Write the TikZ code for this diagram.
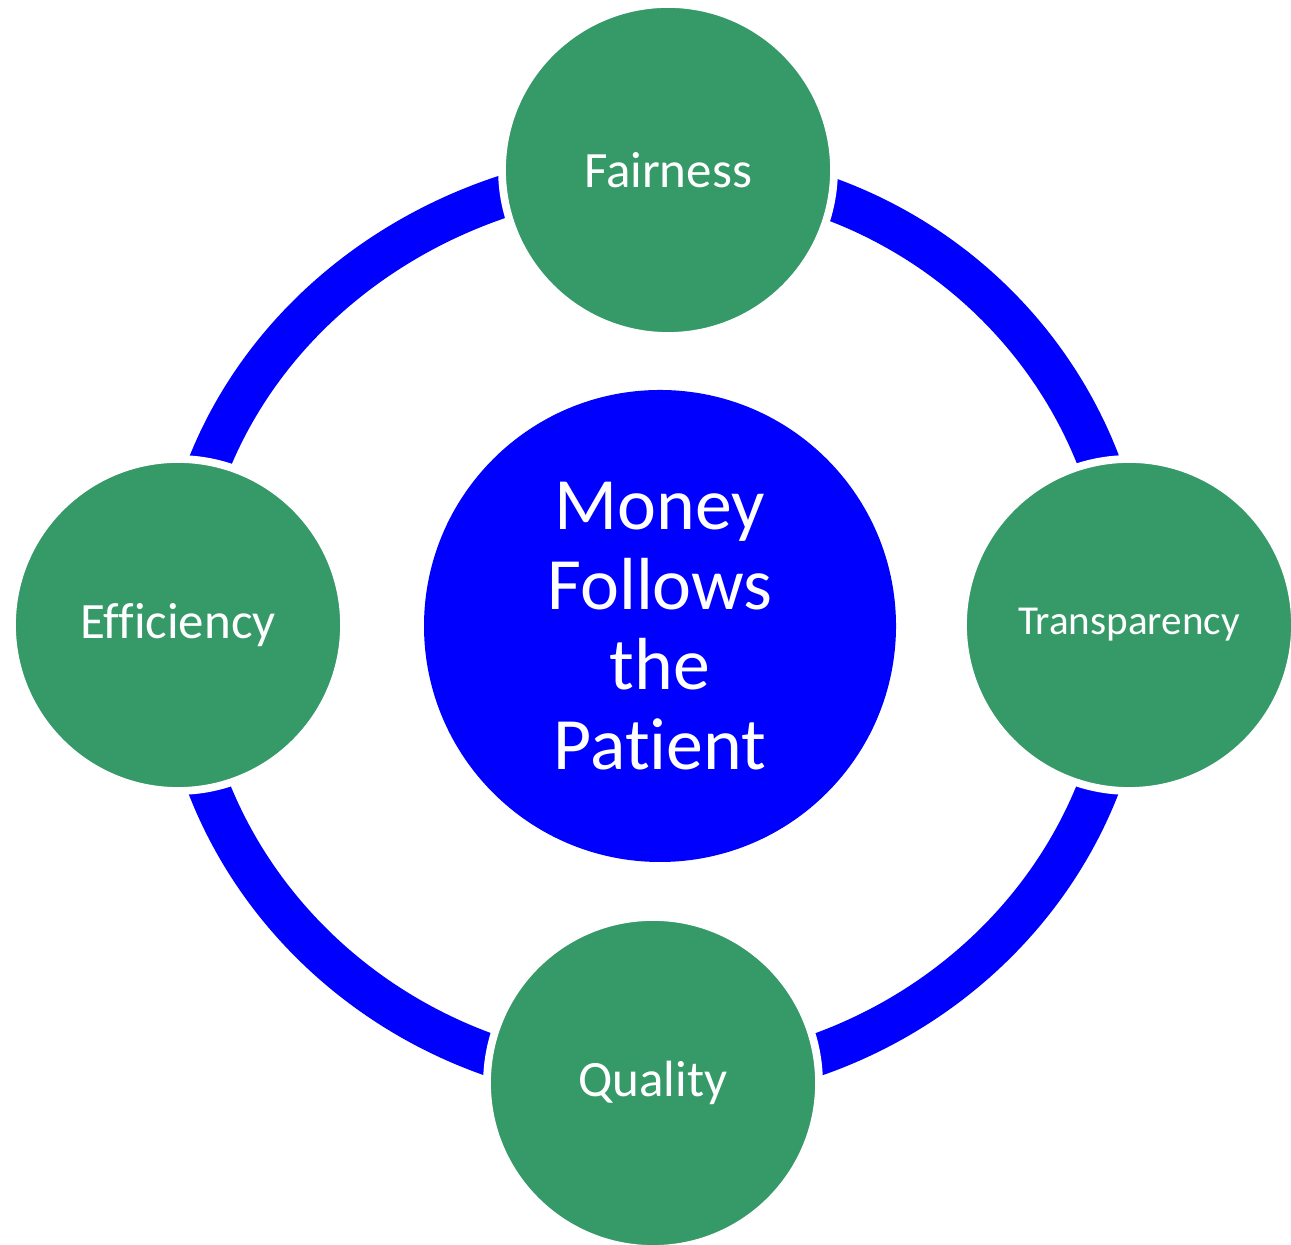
\documentclass[tikz,border=0pt]{standalone}
\usepackage{fontspec}
\setmainfont{Carlito}[Ligatures={NoCommon,NoDiscretionary}]
\usetikzlibrary{backgrounds}
\definecolor{leafgreen}{RGB}{53,153,104}
\definecolor{ringblue}{RGB}{0,0,255}

\begin{document}
\begin{tikzpicture}[thick, main/.style={draw=white, circle, fill=leafgreen, line width=2.2pt, text=white, minimum size=3.32cm, inner sep=0pt, font=\fontsize{14.5}{16}\selectfont}, hub/.style={circle, fill=ringblue, text=white, minimum size=4.72cm, inner sep=0pt, align=center, font=\fontsize{21}{22.7}\selectfont}, ring/.style={draw=ringblue, line width=0.42cm}]
		\useasboundingbox (0,0) rectangle (12.91,12.45);
		\node[hub] (money) at (6.60,6.19) {Money\\Follows\\the\\Patient};
		\node[main] (fair) at (6.68,10.75) {Fairness};
		\node[main] (eff) at (1.78,6.20) {Efficiency};
		\node[main, font=\fontsize{11.7}{13}\selectfont] (trans) at (11.29,6.20) {Transparency};
		\node[main] (qual) at (6.53,1.62) {Quality};

		\begin{scope}[on background layer]
			\draw[ring] (fair.center) to[out=180, in=90] (eff.center) to[out=-90, in=180] (qual.center) to[out=0, in=-90] (trans.center) to[out=90, in=0] (fair.center);
		\end{scope}
	\end{tikzpicture}
\end{document}
